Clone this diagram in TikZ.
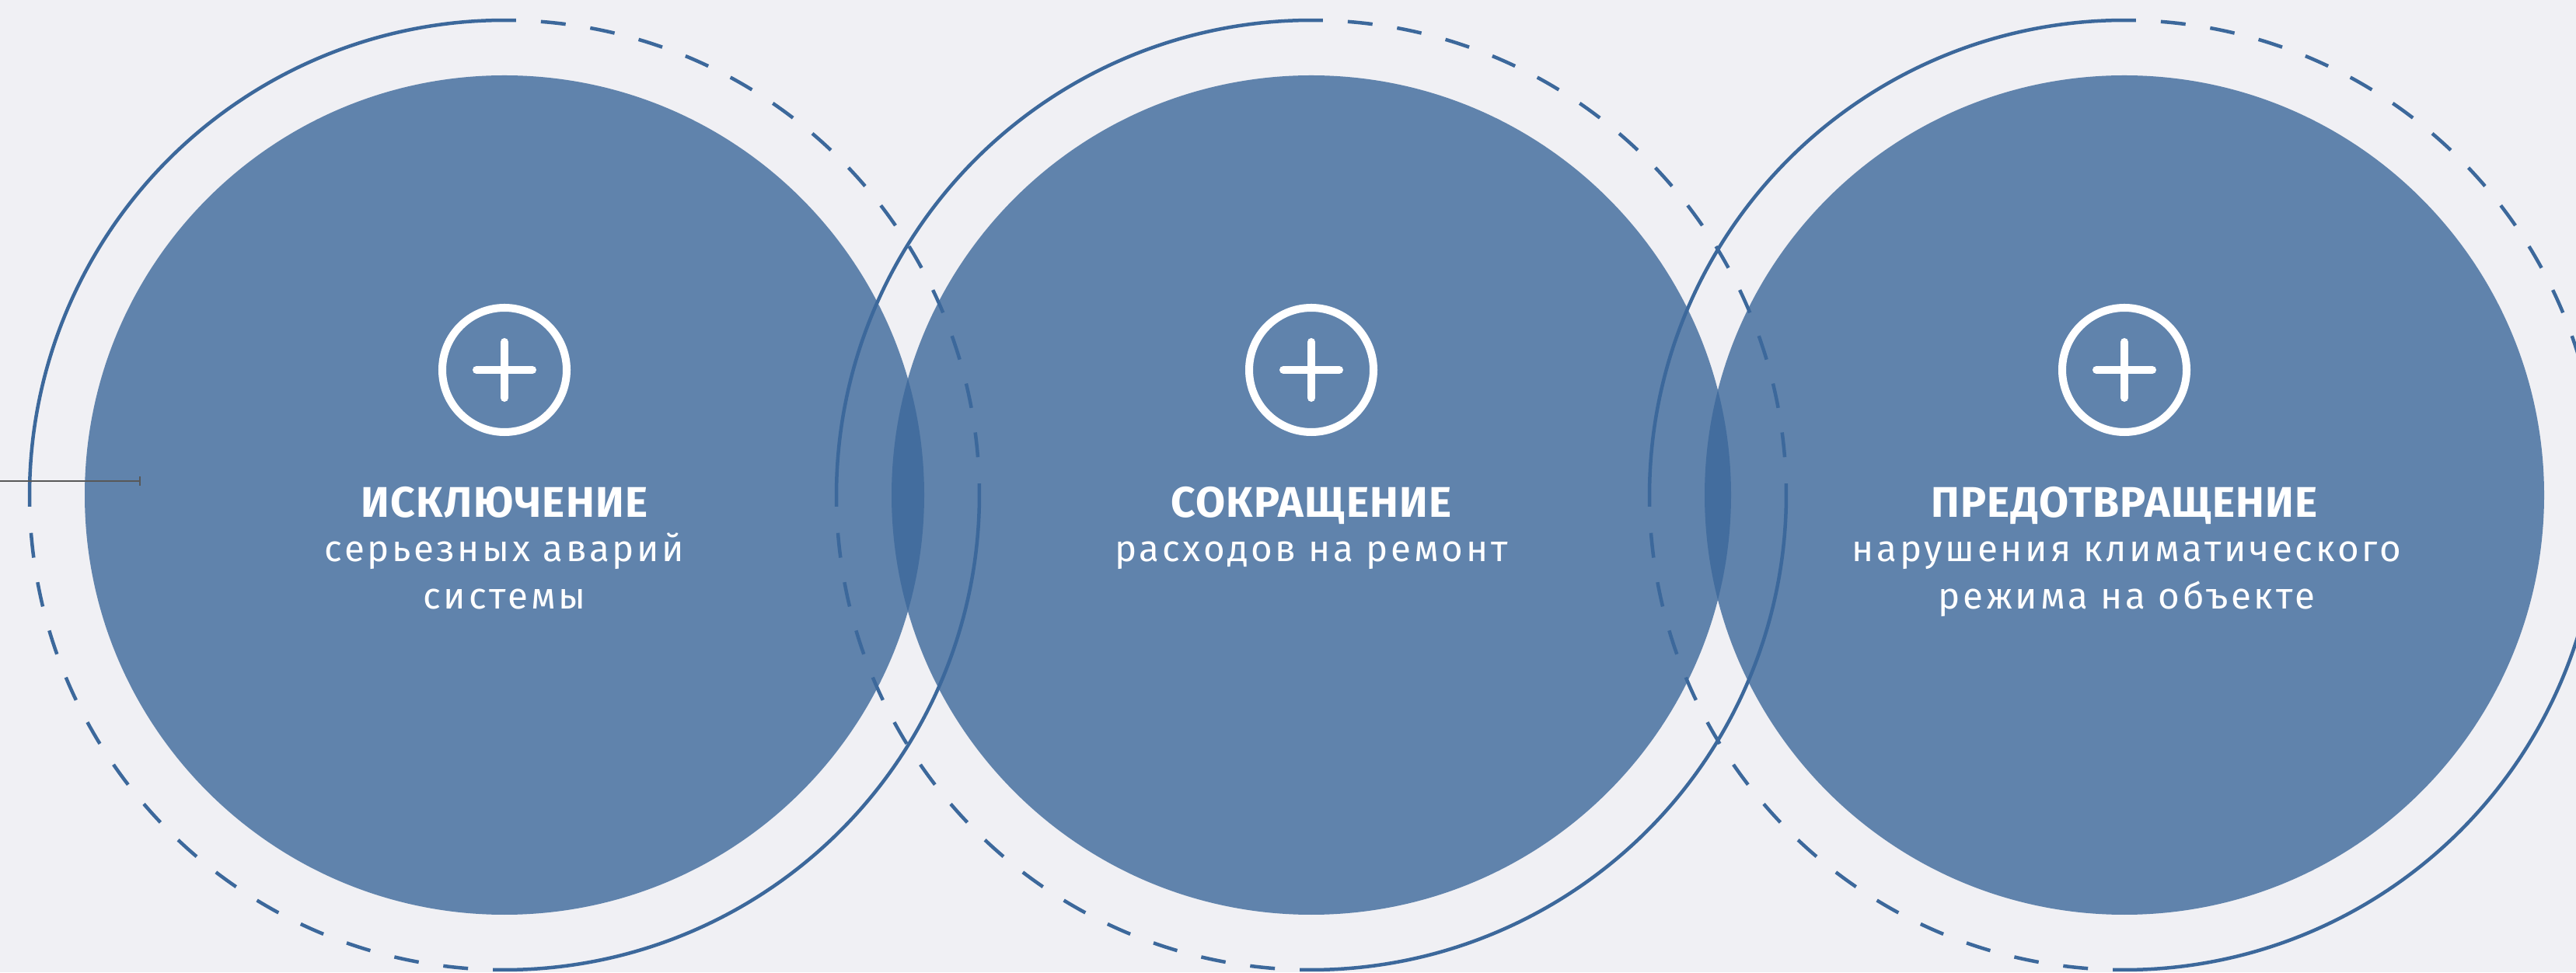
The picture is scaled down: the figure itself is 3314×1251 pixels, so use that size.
\documentclass[tikz,border=0pt]{standalone}
\usepackage{fontspec}
\usetikzlibrary{calc}
\setmainfont{Fira Sans}
\newfontfamily\titlefont[LetterSpace=2.5]{Fira Sans}
\newfontfamily\bodyfont[LetterSpace=7.8]{Fira Sans}
\definecolor{bgc}{RGB}{240,240,244}
\definecolor{ringc}{RGB}{60,104,155}
\definecolor{tickc}{RGB}{88,88,88}
\tikzset{
  disc/.style={fill=ringc, fill opacity=0.8, draw=none},
  ringsolid/.style={draw=ringc, line width=1.28pt},
  ringdash/.style={draw=ringc, line width=1.28pt, dash pattern=on 9.1pt off 9.1pt},
  iconring/.style={draw=white, line width=2.85pt},
  iconplus/.style={draw=white, line width=2.85pt, line cap=round},
  titletext/.style={text=white, inner sep=0pt, anchor=base, font=\titlefont\bfseries\fontsize{15.7pt}{18pt}\selectfont},
  bodytext/.style={text=white, inner sep=0pt, anchor=base, font=\bodyfont\fontsize{13.5pt}{17.6pt}\selectfont},
}
\begin{document}
\begin{tikzpicture}[x=0.01cm, y=0.01cm]
\useasboundingbox (0,0) rectangle (3314,1251);
\fill[bgc] (0,0) rectangle (3314,1251);
\clip (0,0) rectangle (3314,1251);
% centres
\coordinate (c1) at (649,614);
\coordinate (c2) at (1687,614);
\coordinate (c3) at (2733,614);
% filled discs
\foreach \c in {c1,c2,c3}{
  \fill[disc] (\c) circle[radius=540];
}
% rings
\foreach \c in {c1,c2,c3}{
  \draw[ringsolid] (\c) ++(88.6:611) arc[start angle=88.6, end angle=181.4, radius=611];
  \draw[ringsolid] (\c) ++(268.6:611) arc[start angle=268.6, end angle=361.4, radius=611];
  \draw[ringdash] (\c) ++(85.6:611) arc[start angle=85.6, end angle=4.4, radius=611];
  \draw[ringdash] (\c) ++(265.6:611) arc[start angle=265.6, end angle=184.4, radius=611];
}
% icons
\foreach \c/\n in {c1/1,c2/2,c3/3}{
  \coordinate (icon\n) at ($(\c)+(0,161)$);
}
\foreach \n in {1,2,3}{
  \draw[iconring] (icon\n) circle[radius=80];
  \draw[iconplus] ($(icon\n)+(-36,0)$) -- ($(icon\n)+(36,0)$);
  \draw[iconplus] ($(icon\n)+(0,-36)$) -- ($(icon\n)+(0,36)$);
}
% left marker
\coordinate (m0) at (0,632);
\coordinate (m1) at (180,632);
\draw[tickc, line width=0.6pt] (m0) -- (m1);
\draw[tickc, line width=0.85pt] ($(m1)+(0,-6)$) -- ($(m1)+(0,6)$);
% texts
\node[titletext] (t1) at (649,585) {ИСКЛЮЧЕНИЕ};
\node[bodytext] (b1a) at (649,528) {серьезных аварий};
\node[bodytext] (b1b) at (649,467) {системы};
\node[titletext] (t2) at (1687,585) {СОКРАЩЕНИЕ};
\node[bodytext] (b2a) at (1687,528) {расходов на ремонт};
\node[titletext] (t3) at (2733,585) {ПРЕДОТВРАЩЕНИЕ};
\node[bodytext] (b3a) at (2736,528) {нарушения климатического};
\node[bodytext] (b3b) at (2736,467) {режима на объекте};
\end{tikzpicture}
\end{document}
